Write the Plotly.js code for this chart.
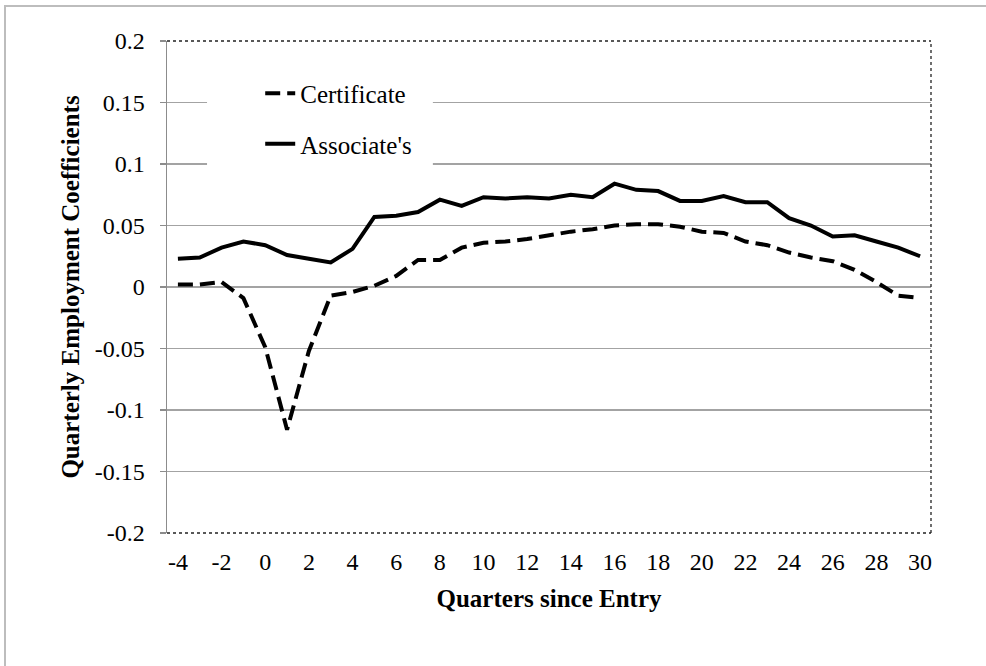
<!DOCTYPE html>
<html>
<head>
<meta charset="utf-8">
<script src="https://cdn.plot.ly/plotly-3.0.1.min.js"></script>
<style>
  html, body { margin: 0; padding: 0; background: #fff; }
  #wrap { position: relative; width: 986px; height: 666px; overflow: hidden; }
  #frame { position: absolute; left: 4px; top: 5px; width: 990px; height: 670px;
           border-left: 2px solid #bdbdbd; border-top: 2px solid #bdbdbd; pointer-events: none; z-index: 2; }
  #chart { position: absolute; left: 0; top: 0; width: 986px; height: 666px; }
</style>
</head>
<body>
<div id="wrap">
  <div id="chart"></div>
  <div id="frame"></div>
</div>
<script>
const quarters = [-4,-3,-2,-1,0,1,2,3,4,5,6,7,8,9,10,11,12,13,14,15,16,17,18,19,20,21,22,23,24,25,26,27,28,29,30];
const certificate = [0.002,0.002,0.004,-0.009,-0.049,-0.116,-0.052,-0.007,-0.004,0.001,0.009,0.022,0.022,0.032,0.036,0.037,0.039,0.042,0.045,0.047,0.050,0.051,0.051,0.049,0.045,0.044,0.037,0.034,0.028,0.024,0.021,0.014,0.004,-0.007,-0.009];
const associates = [0.023,0.024,0.032,0.037,0.034,0.026,0.023,0.020,0.031,0.057,0.058,0.061,0.071,0.066,0.073,0.072,0.073,0.072,0.075,0.073,0.084,0.079,0.078,0.070,0.070,0.074,0.069,0.069,0.056,0.050,0.041,0.042,0.037,0.032,0.025];
const xTickVals = [-4,-2,0,2,4,6,8,10,12,14,16,18,20,22,24,26,28,30];
const xTickText = ["-4","-2","0","2","4","6","8","10","12","14","16","18","20","22","24","26","28","30"];
const yTickVals = [0.2,0.15,0.1,0.05,0,-0.05,-0.1,-0.15,-0.2];
const yTickText = ["0.2","0.15","0.1","0.05","0","-0.05","-0.1","-0.15","-0.2"];

const FONT = "'Liberation Serif', 'Times New Roman', serif";

const traces = [
  {
    x: quarters, y: certificate, type: "scatter", mode: "lines", name: "Certificate",
    legendgroup: "a",
    line: { color: "#000000", width: 4, dash: "15px,7px" }
  },
  {
    x: quarters, y: associates, type: "scatter", mode: "lines", name: "Associate's",
    legendgroup: "b",
    line: { color: "#000000", width: 4 }
  }
];

const layout = {
  width: 986, height: 666,
  margin: { l: 167, r: 55, t: 41, b: 133, pad: 0 },
  paper_bgcolor: "#ffffff", plot_bgcolor: "#ffffff",
  font: { family: FONT, size: 24, color: "#000000" },
  showlegend: true,
  legend: {
    x: 0.122, xanchor: "left", y: 0.94, yanchor: "top",
    bgcolor: "rgba(255,255,255,0)", borderwidth: 0,
    font: { family: FONT, size: 25, color: "#000000" },
    traceorder: "grouped", tracegroupgap: 15
  },
  xaxis: {
    range: [-4.5, 30.5],
    tickmode: "array", tickvals: xTickVals, ticktext: xTickText,
    showgrid: false, zeroline: false, showline: false, ticks: "",
    tickfont: { family: FONT, size: 24 },
    ticklabelstandoff: 12,
    title: { text: "<b>Quarters since Entry</b>", font: { family: FONT, size: 25 }, standoff: 15 },
    automargin: false, fixedrange: true
  },
  yaxis: {
    range: [-0.2, 0.2],
    tickmode: "array", tickvals: yTickVals, ticktext: yTickText,
    showgrid: true, gridcolor: "#a3a3a3", gridwidth: 1.3,
    zeroline: false,
    showline: true, linecolor: "#8c8c8c", linewidth: 1.5,
    ticks: "outside", ticklen: 6, tickcolor: "#8c8c8c", tickwidth: 1.3,
    tickfont: { family: FONT, size: 24 },
    ticklabelstandoff: 10,
    title: { text: "<b>Quarterly Employment Coefficients</b>", font: { family: FONT, size: 25 }, standoff: 8 },
    automargin: false, fixedrange: true
  },
  shapes: [
    { type: "rect", xref: "paper", yref: "paper", x0: 0.0524, x1: 0.348, y0: 0.734, y1: 0.931,
      fillcolor: "#ffffff", line: { width: 0 }, layer: "above" },
    { type: "line", xref: "paper", yref: "paper", x0: 0, x1: 1, y0: 1, y1: 1, line: { color: "#222", width: 1.3, dash: "dot" } },
    { type: "line", xref: "paper", yref: "paper", x0: 1, x1: 1, y0: 0, y1: 1, line: { color: "#222", width: 1.3, dash: "dot" } },
    { type: "line", xref: "paper", yref: "paper", x0: 0, x1: 1, y0: 0, y1: 0, line: { color: "#222", width: 1.3, dash: "dot" } }
  ]
};

Plotly.newPlot("chart", traces, layout, { displayModeBar: false, staticPlot: true });
</script>
</body>
</html>
